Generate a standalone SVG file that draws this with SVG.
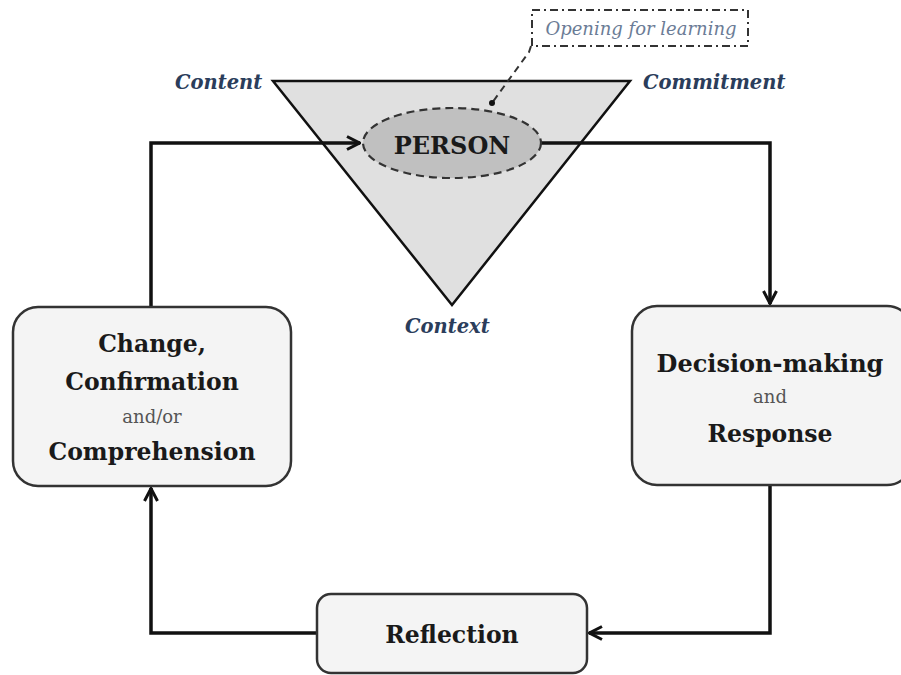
<svg xmlns="http://www.w3.org/2000/svg" width="901" height="675" viewBox="0 0 901 675">
<defs>
<style>
.box{fill:#f4f4f4;stroke:#333;stroke-width:2.5}
.t{font-family:"DejaVu Serif","Liberation Serif",serif;font-weight:bold;font-size:23.5px;fill:#1a1a1a;text-anchor:middle}
.s{font-family:"DejaVu Serif","Liberation Serif",serif;font-size:18px;fill:#555;text-anchor:middle}
.lab{font-family:"DejaVu Serif","Liberation Serif",serif;font-weight:bold;font-style:italic;font-size:19.5px;fill:#2b3d5b}
.conn{fill:none;stroke:#111;stroke-width:3.5;stroke-linejoin:miter}
</style>
<marker id="arrL" viewBox="0 0 16 16" refX="15" refY="8" markerWidth="16" markerHeight="16" markerUnits="userSpaceOnUse" orient="auto">
<path d="M2,1.5 L14.5,8 L2,14.5" fill="none" stroke="#111" stroke-width="3"/>
</marker>
</defs>
<rect width="901" height="675" fill="#fff"/>

<g id="triangle">
<polygon points="273,81 630,81 452,305" fill="#e0e0e0" stroke="#111" stroke-width="2.5"/>
</g>

<g id="connectors">
<polyline class="conn" points="151,307 151,143 360,143" marker-end="url(#arrL)"/>
<polyline class="conn" points="541,143 770,143 770,304" marker-end="url(#arrL)"/>
<polyline class="conn" points="770,486 770,633 589,633" marker-end="url(#arrL)"/>
<polyline class="conn" points="317,633 151,633 151,488" marker-end="url(#arrL)"/>
<polyline points="531,46 529,52 492,103" fill="none" stroke="#333" stroke-width="2" stroke-dasharray="7,5"/>
<circle cx="492" cy="103" r="3" fill="#111"/>
</g>

<g id="person">
<ellipse cx="452" cy="143" rx="89" ry="35" fill="#c0c0c0" stroke="#333" stroke-width="2.2" stroke-dasharray="8,5"/>
<text class="t" x="452" y="154" style="font-size:24px">PERSON</text>
</g>

<g id="opening">
<rect x="532" y="10" width="216" height="36" fill="#fff" stroke="#333" stroke-width="2" stroke-dasharray="8,4,2,4"/>
<text x="641" y="35" style="font-family:'DejaVu Serif','Liberation Serif',serif;font-style:italic;font-size:18px;fill:#6b7c96;text-anchor:middle">Opening for learning</text>
</g>

<g id="labels">
<text class="lab" x="175" y="89">Content</text>
<text class="lab" x="643" y="89">Commitment</text>
<text class="lab" x="405" y="333">Context</text>
</g>

<g id="change">
<rect class="box" x="13" y="307" width="278" height="179" rx="25"/>
<text class="t" x="152" y="352">Change,</text>
<text class="t" x="152" y="390">Confirmation</text>
<text class="s" x="152" y="423">and/or</text>
<text class="t" x="152" y="460">Comprehension</text>
</g>

<g id="decision">
<rect class="box" x="632" y="306" width="280" height="179" rx="25"/>
<text class="t" x="770" y="372" style="font-size:24px">Decision-making</text>
<text class="s" x="770" y="403">and</text>
<text class="t" x="770" y="442">Response</text>
</g>

<g id="reflection">
<rect class="box" x="317" y="594" width="270" height="79" rx="14"/>
<text class="t" x="452" y="643">Reflection</text>
</g>
</svg>
